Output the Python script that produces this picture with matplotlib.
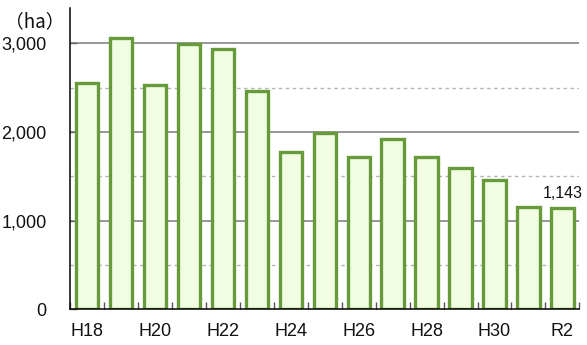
import matplotlib
matplotlib.use("Agg")
import matplotlib.pyplot as plt
import numpy as np

# Annual area (ha), fiscal years H18 .. R2
years = ["H18", "H19", "H20", "H21", "H22", "H23", "H24", "H25",
         "H26", "H27", "H28", "H29", "H30", "R1", "R2"]
area = [2550, 3065, 2530, 2990, 2935, 2465, 1775, 1990,
        1725, 1920, 1722, 1595, 1462, 1158, 1143]
shown_labels = ["H18", "H20", "H22", "H24", "H26", "H28", "H30", "R2"]
y_ticks = [0, 1000, 2000, 3000]
y_tick_labels = ["0", "1,000", "2,000", "3,000"]
unit_label = "（ha）"

fig = plt.figure(figsize=(5.87, 3.45), dpi=100)
ax = fig.add_axes([0.1198, 0.1029, 0.8671, 0.8739])

x = np.arange(len(years))
ax.bar(x, area, width=0.66, color="#F0FDE2", edgecolor="#679A3A",
       linewidth=2.4, zorder=3)

ax.set_xlim(-0.5, len(years) - 0.5)
ax.set_ylim(0, 3400)

# Grid: solid at thousands, dashed at half-thousands
for v in [1000, 2000, 3000]:
    ax.axhline(v, color="#858585", linewidth=1.2, zorder=1)
for v in [500, 1500, 2500]:
    ax.axhline(v, color="#B5B5B5", linewidth=1.0, linestyle=(0, (2.5, 2.5)), zorder=1)

ax.spines["top"].set_visible(False)
ax.spines["right"].set_visible(False)
ax.spines["left"].set_color("black")
ax.spines["bottom"].set_color("black")
ax.spines["left"].set_linewidth(1.1)
ax.spines["bottom"].set_linewidth(1.1)
ax.spines["left"].set_zorder(4)
ax.spines["bottom"].set_zorder(4)

tick_font = dict(family=["Liberation Sans", "DejaVu Sans"], size=13)

ax.set_yticks(y_ticks)
ax.set_yticklabels(y_tick_labels, **tick_font, color="#111111")
ax.tick_params(axis="y", direction="in", length=5, width=1, color="#666666", pad=17)

pos = [years.index(s) for s in shown_labels]
ax.set_xticks(pos)
ax.set_xticklabels(shown_labels, **tick_font, color="#111111")
ax.tick_params(axis="x", which="major", length=0, pad=10)
ax.set_xticks(np.arange(-0.5, len(years), 1.0), minor=True)
ax.tick_params(axis="x", which="minor", direction="in", length=5, width=1, color="#555555")

# Value label on the latest year
last = len(years) - 1
ax.annotate(f"{area[last]:,}", xy=(x[last], area[last]), xytext=(0, 5),
            textcoords="offset points", ha="center", va="bottom",
            fontsize=11.5, family=["Liberation Sans", "DejaVu Sans"], color="#111111",
            zorder=5)

fig.text(35 / 587, 1 - 22 / 345, unit_label, ha="center", va="center",
         fontsize=13.5, family=["Noto Sans CJK JP", "DejaVu Sans"], color="#111111")

fig.savefig("out.png", dpi=100)
